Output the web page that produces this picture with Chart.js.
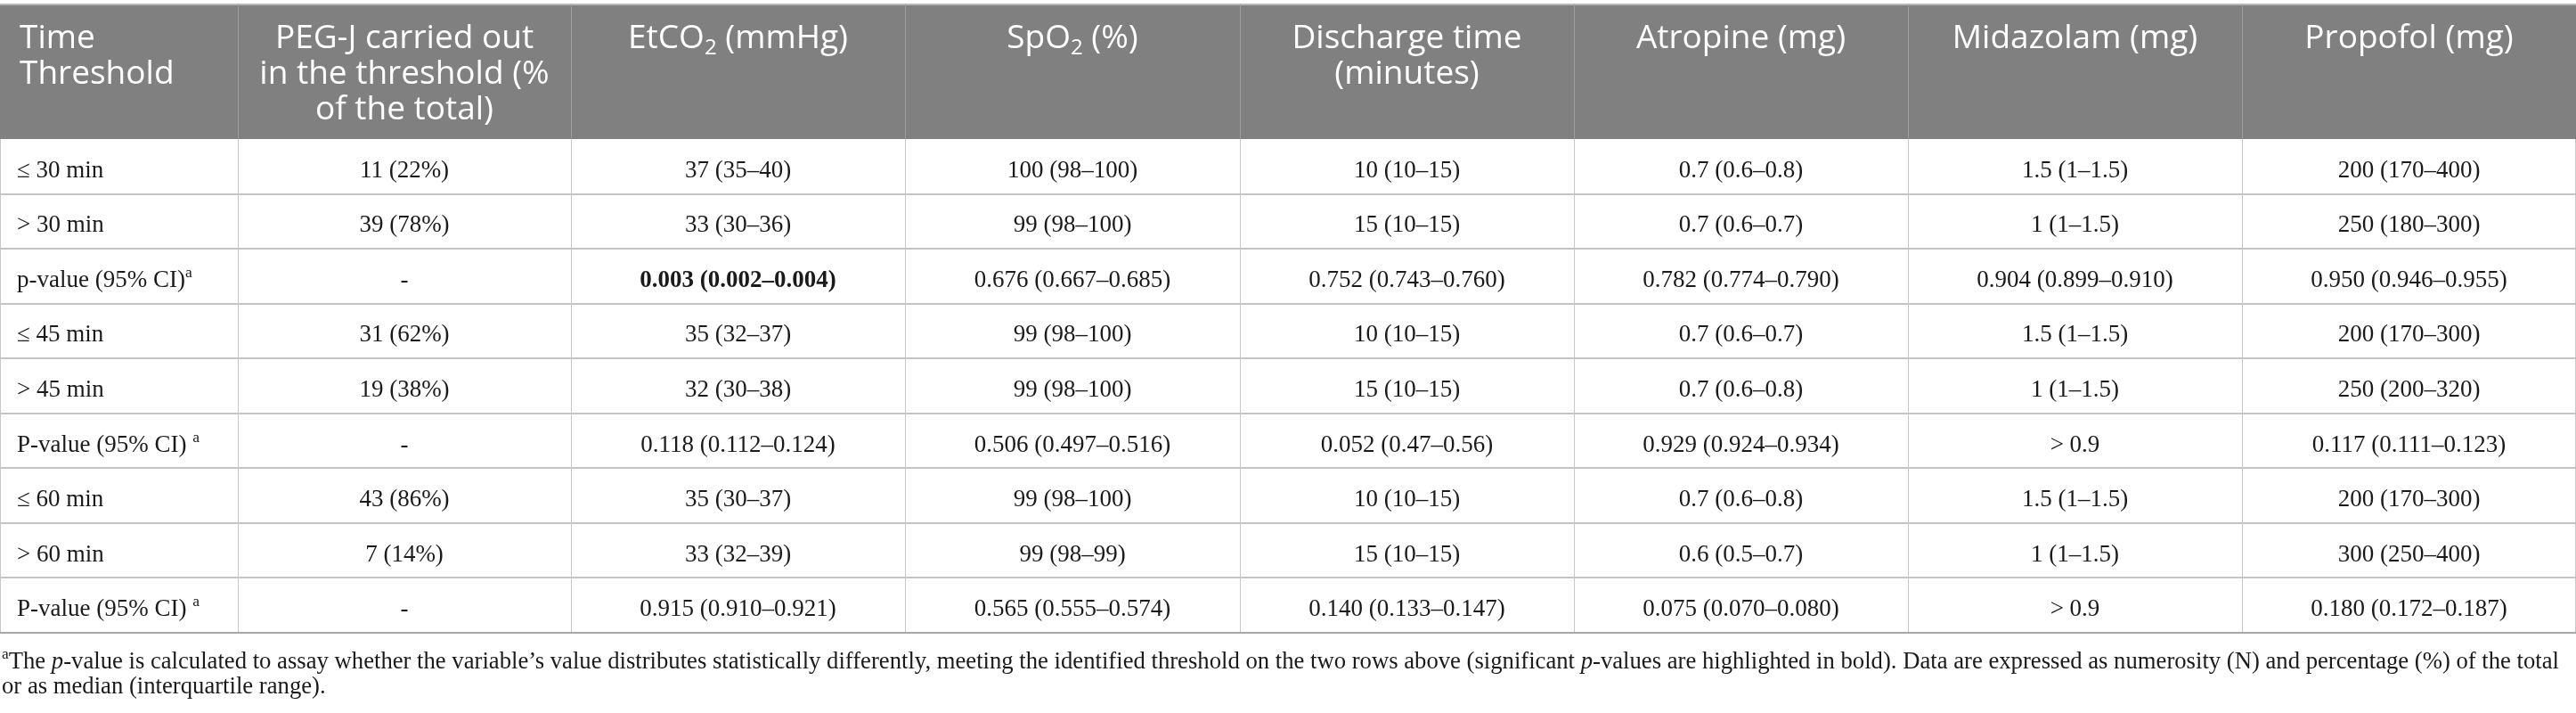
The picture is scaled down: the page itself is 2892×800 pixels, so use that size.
<!DOCTYPE html>
<html>
<head>
<meta charset="utf-8">
<script src="https://cdn.jsdelivr.net/npm/chart.js@4.4.1/dist/chart.umd.min.js"></script>
<style>
  html, body { margin: 0; padding: 0; background: #fff; }
  #wrap { width: 2892px; height: 800px; }
</style>
</head>
<body>
<div id="wrap"><canvas id="tableChart" width="2892" height="800"></canvas></div>
<script>
// En-têtes de colonnes (une entrée par ligne affichée)
const headers = [
  ['Time', 'Threshold'],
  ['PEG-J carried out', 'in the threshold (%', 'of the total)'],
  ['EtCO_{2} (mmHg)'],
  ['SpO_{2} (%)'],
  ['Discharge time', '(minutes)'],
  ['Atropine (mg)'],
  ['Midazolam (mg)'],
  ['Propofol (mg)']
];

const thresholds = ['≤ 30 min', '> 30 min', 'p-value (95% CI)^{a}', '≤ 45 min', '> 45 min', 'P-value (95% CI) ^{a}', '≤ 60 min', '> 60 min', 'P-value (95% CI) ^{a}'];
const pegJ = ['11 (22%)', '39 (78%)', '-', '31 (62%)', '19 (38%)', '-', '43 (86%)', '7 (14%)', '-'];
const etco2 = ['37 (35–40)', '33 (30–36)', '0.003 (0.002–0.004)', '35 (32–37)', '32 (30–38)', '0.118 (0.112–0.124)', '35 (30–37)', '33 (32–39)', '0.915 (0.910–0.921)'];
const spo2 = ['100 (98–100)', '99 (98–100)', '0.676 (0.667–0.685)', '99 (98–100)', '99 (98–100)', '0.506 (0.497–0.516)', '99 (98–100)', '99 (98–99)', '0.565 (0.555–0.574)'];
const discharge = ['10 (10–15)', '15 (10–15)', '0.752 (0.743–0.760)', '10 (10–15)', '15 (10–15)', '0.052 (0.47–0.56)', '10 (10–15)', '15 (10–15)', '0.140 (0.133–0.147)'];
const atropine = ['0.7 (0.6–0.8)', '0.7 (0.6–0.7)', '0.782 (0.774–0.790)', '0.7 (0.6–0.7)', '0.7 (0.6–0.8)', '0.929 (0.924–0.934)', '0.7 (0.6–0.8)', '0.6 (0.5–0.7)', '0.075 (0.070–0.080)'];
const midazolam = ['1.5 (1–1.5)', '1 (1–1.5)', '0.904 (0.899–0.910)', '1.5 (1–1.5)', '1 (1–1.5)', '> 0.9', '1.5 (1–1.5)', '1 (1–1.5)', '> 0.9'];
const propofol = ['200 (170–400)', '250 (180–300)', '0.950 (0.946–0.955)', '200 (170–300)', '250 (200–320)', '0.117 (0.111–0.123)', '200 (170–300)', '300 (250–400)', '0.180 (0.172–0.187)'];

const columns = [thresholds, pegJ, etco2, spo2, discharge, atropine, midazolam, propofol];

// p-values significatifs (en gras) : [colonne, ligne]
const boldCells = [[2, 2]];

const footnote = [
  '^{a}The *p*-value is calculated to assay whether the variable’s value distributes statistically differently, meeting the identified threshold on the two rows above (significant *p*-values are highlighted in bold). Data are expressed as numerosity (N) and percentage (%) of the total',
  'or as median (interquartile range).'
];

// Mise en page (en pixels)
const W = 2892, H = 800;
const colEdges = [0, 267, 641, 1016, 1392, 1767, 2142, 2517, 2892];
const headerTop = 5, headerBottom = 156, tableBottom = 710;
const headerFont = '"Open Sans", "Noto Sans", sans-serif';
const bodyFont = '"Liberation Serif", "DejaVu Serif", serif';

function parseRich(str) {
  const parts = [];
  const re = /_\{([^}]*)\}|\^\{([^}]*)\}|\*([^*]+)\*/g;
  let last = 0, m;
  while ((m = re.exec(str)) !== null) {
    if (m.index > last) parts.push({ t: str.slice(last, m.index), mode: 'normal' });
    if (m[1] !== undefined) parts.push({ t: m[1], mode: 'sub' });
    else if (m[2] !== undefined) parts.push({ t: m[2], mode: 'sup' });
    else parts.push({ t: m[3], mode: 'normal', italic: true });
    last = re.lastIndex;
  }
  if (last < str.length) parts.push({ t: str.slice(last), mode: 'normal' });
  return parts;
}

function fontFor(part, o) {
  const size = part.mode === 'normal' ? o.size : o.size * 0.65;
  return (part.italic ? 'italic ' : '') + (o.bold ? 'bold ' : '') + size + 'px ' + o.family;
}

function richWidth(ctx, str, o) {
  let w = 0;
  parseRich(str).forEach(p => { ctx.font = fontFor(p, o); w += ctx.measureText(p.t).width; });
  return w;
}

// texte avec indices / exposants / italique, posé sur la ligne de base y
function drawRich(ctx, str, x, y, align, o) {
  const parts = parseRich(str);
  const total = richWidth(ctx, str, o);
  let cx = align === 'center' ? x - total / 2 : x;
  ctx.fillStyle = o.color;
  ctx.textAlign = 'left';
  ctx.textBaseline = 'alphabetic';
  parts.forEach(p => {
    ctx.font = fontFor(p, o);
    let dy = 0;
    if (p.mode === 'sub') dy = o.size * 0.2;
    if (p.mode === 'sup') dy = -o.size * 0.4;
    ctx.fillText(p.t, cx, y + dy);
    cx += ctx.measureText(p.t).width;
  });
}

const tablePlugin = {
  id: 'tablePlugin',
  afterDraw(chart) {
    const ctx = chart.ctx;
    const px = v => chart.scales.x.getPixelForValue(v);
    const py = v => chart.scales.y.getPixelForValue(v);
    const nRows = thresholds.length;
    const rowH = (tableBottom - headerBottom) / nRows;

    ctx.save();
    // fond de l'en-tête
    ctx.fillStyle = '#808080';
    ctx.fillRect(px(0), py(headerTop), px(W) - px(0), py(headerBottom) - py(headerTop));
    ctx.strokeStyle = '#b8b8b8';
    ctx.lineWidth = 2;
    ctx.beginPath(); ctx.moveTo(px(0), py(headerTop)); ctx.lineTo(px(W), py(headerTop)); ctx.stroke();

    // séparateurs dans l'en-tête
    ctx.strokeStyle = '#9c9c9c';
    ctx.lineWidth = 1;
    for (let i = 1; i < colEdges.length - 1; i++) {
      const x = Math.round(px(colEdges[i])) + 0.5;
      ctx.beginPath(); ctx.moveTo(x, py(headerTop)); ctx.lineTo(x, py(headerBottom)); ctx.stroke();
    }

    // lignes verticales du corps
    ctx.strokeStyle = '#c8c8c8';
    for (let i = 0; i < colEdges.length; i++) {
      let x = Math.round(px(colEdges[i])) + 0.5;
      if (i === colEdges.length - 1) x -= 1;
      ctx.beginPath(); ctx.moveTo(x, py(headerBottom)); ctx.lineTo(x, py(tableBottom)); ctx.stroke();
    }

    // lignes horizontales
    ctx.strokeStyle = '#c4c4c4';
    ctx.lineWidth = 2;
    for (let r = 1; r < nRows; r++) {
      const y = Math.round(py(headerBottom + r * rowH));
      ctx.beginPath(); ctx.moveTo(px(0), y); ctx.lineTo(px(W), y); ctx.stroke();
    }
    ctx.strokeStyle = '#a8a8a8';
    ctx.beginPath(); ctx.moveTo(px(0), py(tableBottom)); ctx.lineTo(px(W), py(tableBottom)); ctx.stroke();

    // textes de l'en-tête
    const ho = { size: 37, family: headerFont, color: '#ffffff' };
    headers.forEach((lines, c) => {
      lines.forEach((line, k) => {
        const y = py(54 + k * 40);
        if (c === 0) drawRich(ctx, line, px(colEdges[0] + 22), y, 'left', ho);
        else drawRich(ctx, line, px((colEdges[c] + colEdges[c + 1]) / 2), y, 'center', ho);
      });
    });

    // cellules
    columns.forEach((col, c) => {
      col.forEach((val, r) => {
        const y = py(headerBottom + (r + 0.5) * rowH + 12);
        const bold = boldCells.some(b => b[0] === c && b[1] === r);
        const o = { size: 27, family: bodyFont, color: '#1a1a1a', bold: bold };
        if (c === 0) drawRich(ctx, val, px(colEdges[0] + 19), y, 'left', o);
        else drawRich(ctx, val, px((colEdges[c] + colEdges[c + 1]) / 2), y, 'center', o);
      });
    });

    // note de bas de tableau, ajustée à la largeur
    let fs = 27;
    const natural = richWidth(ctx, footnote[0], { size: fs, family: bodyFont });
    const target = W - 20;
    if (natural > target) fs = fs * target / natural;
    footnote.forEach((line, k) => {
      drawRich(ctx, line, px(2), py(750 + k * 28), 'left', { size: fs, family: bodyFont, color: '#1a1a1a' });
    });
    ctx.restore();
  }
};

new Chart(document.getElementById('tableChart'), {
  type: 'scatter',
  data: { datasets: [{ data: [] }] },
  options: {
    responsive: false,
    animation: false,
    events: [],
    layout: { padding: 0 },
    scales: {
      x: { type: 'linear', min: 0, max: W, display: false },
      y: { type: 'linear', min: 0, max: H, reverse: true, display: false }
    },
    plugins: { legend: { display: false }, tooltip: { enabled: false } }
  },
  plugins: [tablePlugin]
});
</script>
</body>
</html>
